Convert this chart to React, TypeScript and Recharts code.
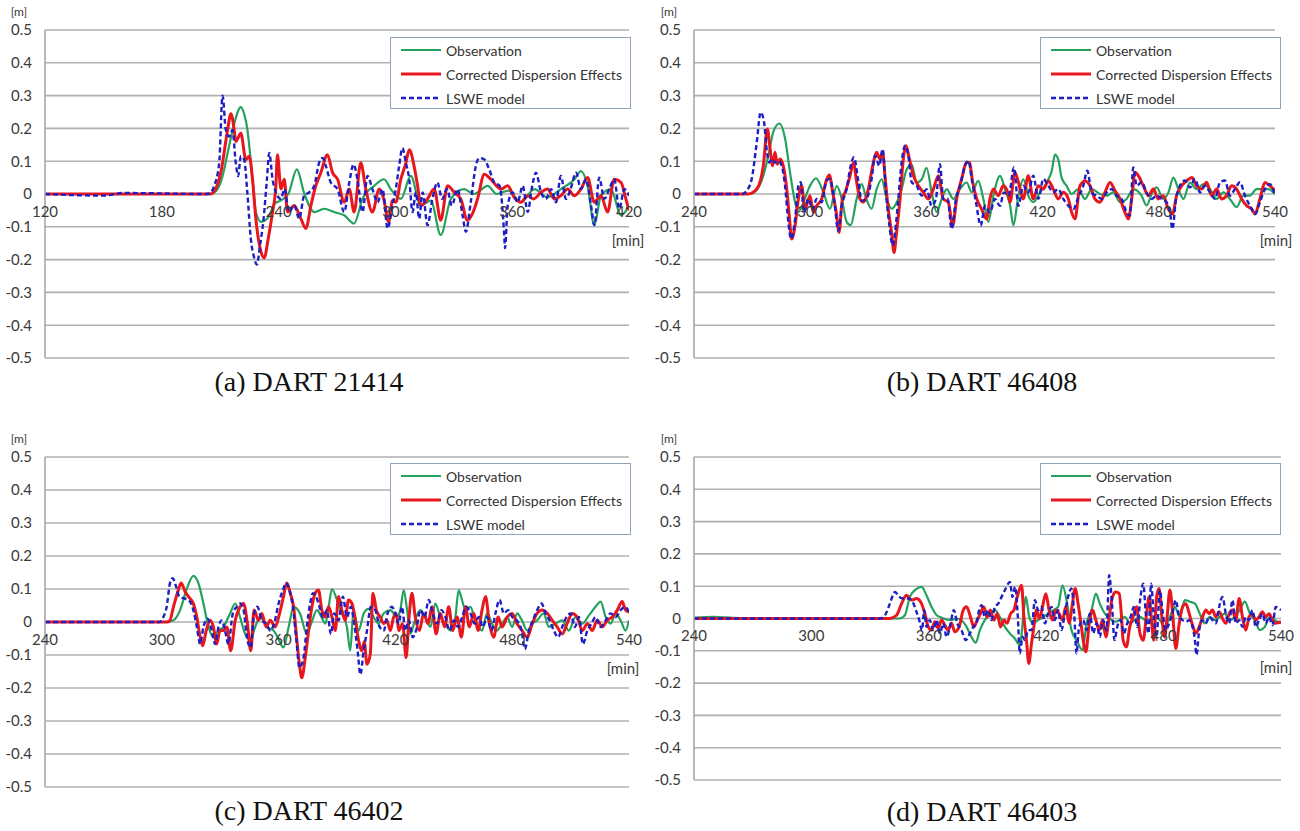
import React from 'react';
import { LineChart, Line, XAxis, YAxis, CartesianGrid, ReferenceDot } from 'recharts';

// (a) DART 21414 — [minute, metres]
const obsA: number[][] = [[120,0],[205,0],[208,0.01],[211,0.05],[214,0.13],[217,0.21],[220.6,0.265],[222,0.25],[224,0.195],[226.6,0.045],[228.3,-0.055],[231,-0.085],[234.3,-0.075],[238,-0.03],[241,-0.02],[245,0.0],[249.4,0.075],[253,0.005],[258.3,-0.055],[263.4,-0.045],[268.5,-0.055],[273.7,-0.065],[278.8,-0.09],[283.1,-0.015],[289.1,0.025],[294.2,0.045],[297.6,0.015],[302.8,-0.015],[307.9,0.055],[313,-0.035],[318.2,-0.02],[323.3,-0.125],[328.5,-0.015],[335.3,0.015],[340.4,0],[347.4,0.025],[352,0],[358,0.01],[364.5,-0.025],[371.4,0.015],[378,-0.01],[385,0.015],[392,0.045],[395.3,0.07],[398.7,0.025],[402.2,-0.095],[405.6,-0.005],[410.7,0.015],[415.9,-0.065],[420,-0.035]];
const corA: number[][] = [[120,0],[205,0],[208,0.02],[210.3,0.065],[213.8,0.195],[215.5,0.245],[217.2,0.195],[218,0.16],[220.6,0.185],[223.2,0.105],[224.9,0.115],[226.6,0.045],[228.3,-0.075],[230.9,-0.175],[232.6,-0.195],[234.7,-0.135],[236.9,-0.055],[238.6,0.025],[239.4,0.12],[241.2,0.015],[242.9,0.045],[244.6,-0.055],[248,-0.035],[251.4,-0.075],[254,-0.105],[256.6,-0.035],[259.1,0.025],[261.7,0.065],[265.1,0.12],[267.7,0.065],[270.3,0.045],[273.7,-0.025],[276.3,0.015],[278.8,-0.055],[282.2,0.095],[284.8,0.015],[288.2,-0.055],[291.7,0.015],[294,-0.015],[296.5,-0.085],[298.5,-0.02],[300.2,-0.025],[302.8,0.045],[305.4,0.095],[307.1,0.135],[309.6,0.085],[311.4,0.025],[313.1,-0.035],[316.5,-0.015],[319.9,0.015],[323.3,-0.08],[326.8,0.025],[330.2,0.005],[333.6,-0.015],[337,-0.08],[339.6,-0.06],[342.2,-0.015],[345.7,0.06],[349,0.045],[354.2,0.015],[357.7,0.025],[361,-0.01],[364.5,-0.025],[368,-0.005],[371,-0.015],[374.8,0.005],[378.2,0.015],[381.6,-0.015],[385,-0.005],[388.5,0.015],[391.9,-0.005],[395.3,0.015],[398.7,0.05],[402.2,-0.025],[405.6,-0.005],[409,-0.055],[412.4,0.045],[415.9,0.035],[418.4,-0.015],[420,-0.05]];
const lsweA: number[][] = [[120,0],[150,-0.005],[160,0.003],[203,0],[205.2,0.005],[206.9,0.025],[209.5,0.095],[211.2,0.3],[212.9,0.195],[214.6,0.175],[216.3,0.195],[218,0.095],[219.2,0.055],[220.6,0.115],[222.3,0.105],[224,0],[225.7,-0.135],[227.5,-0.195],[228.8,-0.215],[230.5,-0.155],[232.3,-0.075],[234,0.045],[235.2,0.125],[236.9,0.045],[238.6,0.005],[241.2,-0.015],[243,0.015],[245.4,-0.055],[248,-0.035],[250.6,-0.075],[253.1,-0.005],[255.7,0.005],[258.3,0.025],[260.8,0.095],[262.6,0.11],[264.3,0.085],[266.8,0.035],[270.3,0.015],[273.7,-0.055],[276.3,0.035],[278.5,0.09],[280.5,0.045],[283.1,-0.055],[285.7,0.055],[288.2,0.015],[290.8,-0.025],[293.4,0.015],[296,-0.105],[298.5,-0.035],[300.2,0.015],[301.9,0.085],[303.6,0.14],[305.4,0.095],[307.1,0.045],[308.8,-0.055],[310.5,0.005],[312.2,-0.075],[314,0.005],[316.5,-0.095],[319,-0.015],[321.6,0.035],[324,-0.015],[326.5,0.015],[329,-0.035],[331.9,0.015],[334.5,-0.065],[336.2,-0.115],[338.7,-0.025],[341.3,0.085],[343.1,0.11],[345.7,0.105],[348.2,0.075],[350.8,0.035],[353.5,0.025],[355.9,-0.125],[356.3,-0.165],[357.7,-0.035],[360.2,0.005],[362.8,-0.025],[365.4,0.025],[368,-0.055],[370,0.015],[372.2,0.065],[374.8,0.005],[377.3,-0.015],[380,0.015],[382.5,-0.025],[385,0.055],[387.6,-0.015],[390,0.015],[392.8,0.065],[395.3,0.015],[397.9,0.045],[400.5,-0.035],[402.2,-0.095],[404.7,0.05],[407.3,-0.015],[409.9,0.015],[412.4,0.045],[415,-0.045],[417.6,0.015],[420,-0.005]];

// (b) DART 46408
const obsB: number[][] = [[240,0],[269,0],[272,0.01],[275.8,0.056],[278.5,0.12],[281,0.19],[284.1,0.215],[287,0.17],[289.6,0.065],[292.2,-0.025],[293.9,-0.055],[296.5,-0.025],[299.9,0.025],[303,0.048],[306.8,0.005],[310.2,-0.045],[313.7,0.025],[316.3,-0.015],[318.8,-0.085],[320.9,-0.095],[324,-0.015],[326.6,0.03],[329,-0.015],[331.7,-0.045],[334.3,0.015],[336.9,0.045],[339.5,-0.015],[342.1,-0.045],[344.7,-0.025],[347.2,0.015],[349.8,0.075],[352.4,0.09],[355,0.035],[357.6,0.045],[360.1,0.08],[362.7,0.005],[365.3,-0.055],[367.9,-0.015],[370.5,0.015],[373.9,-0.015],[377.3,0.015],[380.8,0.035],[383.4,0.005],[386.8,0.04],[389.4,-0.015],[392,-0.085],[394.6,-0.005],[398,0.055],[400.6,0.015],[403.2,-0.035],[404.9,-0.095],[407.5,-0.005],[410,0.045],[412.6,-0.005],[415.2,-0.025],[418.7,0.005],[422.1,0.035],[424.7,0.07],[426.4,0.12],[428.1,0.105],[429.8,0.05],[432.4,0.025],[435,0],[438.4,0.015],[441.9,-0.015],[445.3,0.015],[449.6,0],[453.1,-0.005],[456.5,0.005],[460,-0.025],[463.4,-0.015],[466.8,0.015],[471.1,-0.005],[473.7,-0.035],[476.3,0],[478.9,0.02],[482.3,-0.015],[485,0.005],[487.5,0.05],[490.1,0.015],[492.7,-0.015],[496.1,0.035],[499.5,0.015],[503,0.03],[506.4,0.015],[509.9,-0.015],[513.3,0.005],[516.7,-0.015],[520.2,-0.04],[523.6,-0.005],[527,-0.005],[530.5,0.015],[534,0.015],[536.5,0.015],[540,0]];
const corB: number[][] = [[240,0],[268,0],[272.4,0.015],[275.8,0.086],[277.9,0.198],[279.3,0.137],[280.6,0.086],[281.8,0.127],[283,0.091],[284.4,0.107],[286.1,0.086],[287.9,0.015],[289.2,-0.066],[290.4,-0.137],[292.2,-0.096],[293.9,-0.015],[295.6,0.025],[297.3,-0.046],[299.9,-0.005],[301.6,-0.056],[303.3,-0.036],[305.9,-0.015],[308.5,0.045],[309.9,0.058],[311.6,0.005],[313.7,-0.066],[314.9,-0.117],[316.6,-0.015],[318,0.005],[320.6,0.056],[322.3,0.096],[324,0.036],[325.7,-0.015],[327.4,-0.025],[330,0.015],[332.6,0.096],[334.3,0.127],[336,0.107],[337.4,0.127],[338.6,0.056],[340.3,-0.046],[342,-0.117],[343.3,-0.178],[344.6,-0.117],[346.4,-0.015],[348.1,0.107],[349.5,0.147],[351.2,0.107],[353.3,0.056],[355.9,0.025],[358.4,0.005],[361,-0.015],[363.6,0.015],[366.2,0.056],[368.7,-0.015],[371.3,-0.025],[373.6,-0.096],[375.6,-0.015],[378.2,0.046],[380.8,0.096],[382.2,0.096],[383.9,0.036],[386,-0.015],[388.5,-0.046],[391.1,-0.076],[392.8,-0.015],[394.6,0.015],[397.1,-0.005],[399.7,0.025],[402,0.005],[403.2,-0.025],[405.7,0.066],[407.5,0.036],[410,-0.015],[412.6,0.056],[415.2,-0.015],[417.8,0.025],[420.4,0.015],[423,0.04],[425.5,0.015],[428.1,-0.015],[430.7,0.005],[433.3,-0.015],[435,-0.056],[436.7,-0.076],[439.3,0.025],[441.9,0.04],[444.5,0.025],[447,-0.015],[449.6,-0.025],[452.2,0.005],[454.8,0.035],[457.4,0.01],[460,-0.015],[462.5,-0.056],[464.3,-0.076],[466,-0.015],[467.7,0.066],[469.4,0.056],[472,0.025],[474.6,-0.005],[477.2,0.015],[479.7,-0.015],[482.3,-0.005],[484.9,-0.046],[487.1,-0.061],[489.2,-0.005],[491.8,0.025],[494.4,0.04],[497,0.05],[499.5,0.025],[502.1,0.015],[504.7,0.036],[507.3,-0.005],[509.9,0.015],[512.4,-0.015],[515,-0.005],[517.6,0.025],[520.2,0.015],[522.8,-0.015],[525.4,-0.036],[528,-0.046],[529.7,-0.061],[532.2,-0.015],[534.8,0.035],[537.4,0.025],[540,0.01]];
const lsweB: number[][] = [[240,0],[265,0],[267.2,0.01],[269.8,0.046],[272.4,0.157],[274.4,0.249],[276.2,0.218],[277.5,0.137],[278.9,0.096],[280.1,0.107],[281.8,0.096],[283.5,0.101],[285.3,0.086],[287,0.025],[288.7,-0.086],[290.1,-0.137],[292.2,-0.076],[293.9,0.025],[295.1,0.036],[296.8,-0.056],[299,-0.015],[301.3,-0.046],[303.3,-0.015],[305.9,-0.025],[308.5,0.041],[310.2,0.046],[312.3,-0.015],[314.5,-0.112],[316.3,-0.036],[318.8,0.015],[320.9,0.086],[322.6,0.112],[324.9,0.036],[326.6,-0.02],[329,-0.015],[331.7,0.046],[333.5,0.117],[335.7,0.086],[337.4,0.137],[339.1,0.005],[340.9,-0.096],[342.6,-0.157],[343.8,-0.117],[345.5,-0.015],[347.2,0.096],[349,0.147],[350.7,0.117],[352.4,0.036],[355,0.025],[357.6,-0.005],[360.1,0.015],[362.7,-0.036],[364.9,-0.015],[367,0.091],[368.7,-0.015],[371,-0.015],[373,-0.107],[375.3,-0.015],[377.4,0.025],[379.9,0.086],[381.7,0.101],[383.4,0.046],[385.6,-0.025],[388,-0.096],[390.3,-0.036],[392.8,-0.056],[395.4,-0.015],[398,-0.036],[400,0.005],[402.5,-0.005],[405.2,0.081],[407.5,-0.036],[410,0.025],[412.6,0.005],[415.2,0.056],[417.8,-0.015],[420.4,0.046],[423,0.025],[425.5,0.005],[428.1,0.015],[430.7,-0.015],[433.3,-0.036],[435.9,-0.046],[438.4,-0.01],[441,0.025],[443.1,0.071],[445.3,0.005],[447.9,-0.005],[450.5,-0.015],[453.1,0.005],[455.7,0.015],[458.2,-0.005],[460.8,-0.015],[463.4,-0.056],[465.1,-0.066],[466.8,0.081],[468.6,0.025],[471.1,0.036],[473.7,0.005],[476.3,-0.015],[478.9,-0.005],[481.5,-0.015],[484,-0.025],[485.8,-0.056],[487,-0.107],[488.9,-0.015],[490.9,0.025],[493.5,0.041],[496.1,0.02],[498.7,0.046],[501.3,0.005],[503.8,0.025],[506.4,0.005],[509,-0.015],[511.6,0.036],[514.2,0.041],[516.7,-0.005],[519.3,0.015],[521.9,0.036],[524.5,-0.005],[527.1,-0.036],[529.7,-0.061],[532.2,-0.025],[534.8,0.015],[537.4,0.03],[540,-0.005]];

// (c) DART 46402
const obsC: number[][] = [[240,0],[302.5,0],[306,0.005],[309.4,0.036],[312.8,0.1],[316.2,0.14],[318.8,0.118],[321.4,0.056],[324,-0.015],[326.5,-0.046],[329.1,-0.026],[331.7,-0.015],[335.1,0.026],[337.7,0.056],[340.2,0.015],[342.8,-0.036],[345.4,-0.056],[348,-0.015],[350.5,0.015],[354,-0.015],[357.4,-0.026],[359.5,-0.046],[362.5,-0.077],[365,-0.02],[367.7,0.046],[371,0.026],[374.5,-0.036],[377,0],[379.7,0.036],[382,0.015],[384,-0.005],[385.7,0.046],[387.4,0.1],[390,0.067],[392.5,0.026],[395.1,-0.015],[396.8,-0.087],[398.5,0.036],[401.1,-0.026],[403.7,0.026],[406.2,0.04],[408.8,0.015],[411.4,-0.005],[413.9,0.026],[417.4,0.036],[420.8,0.015],[422.5,0.036],[424.3,0.097],[426,0.036],[427.7,-0.036],[430,0.005],[432.8,0.036],[435.4,0.015],[438,-0.015],[440.5,0.056],[443.1,0.015],[445.7,-0.005],[448.2,-0.026],[450.8,0.015],[452.5,0.097],[454.2,0.067],[456,0.036],[458.5,0.046],[461.1,0.005],[464.5,-0.026],[467.1,0.026],[469.7,-0.005],[472.2,-0.026],[474.8,-0.005],[477.4,0.015],[480,-0.015],[482.5,0.026],[485,0.005],[487.7,-0.026],[490.3,-0.005],[492.8,0.005],[496.2,0.026],[498.8,-0.015],[502.2,-0.005],[505.7,0.005],[509.1,-0.026],[512.5,0.015],[516,-0.005],[519.4,0.02],[522.8,0.046],[525.4,0.062],[528,0.015],[530.6,-0.005],[533.1,0.026],[535.7,0.005],[538.2,-0.026],[540,0.005]];
const corC: number[][] = [[240,0],[302.5,0],[304,0.003],[306,0.046],[308.5,0.097],[309.9,0.118],[312,0.092],[313.7,0.077],[316.2,0.056],[318,0.015],[319.7,-0.046],[321,-0.072],[322.8,-0.026],[324.8,0.005],[326.5,-0.015],[328.2,-0.067],[329.9,-0.026],[331.7,-0.026],[333.4,-0.015],[335.4,-0.087],[337.7,0.005],[340.2,0.046],[342,0.056],[344,-0.005],[345.7,-0.087],[347.4,0.036],[349.7,0.005],[351.4,0.026],[353.6,-0.015],[355.7,0.005],[358.2,-0.015],[360.5,0.026],[362.5,0.077],[364.2,0.118],[366,0.087],[367.7,0.046],[369.4,-0.056],[370.7,-0.128],[371.9,-0.169],[373.7,-0.108],[375.4,-0.026],[377.1,0.046],[378.8,0.087],[380.5,0.097],[382.2,0.036],[383.9,0.015],[385.7,0.046],[387.4,0.015],[389.1,-0.026],[390.8,0.077],[392.5,0.036],[394.2,0.005],[395.9,0.067],[397.7,0.056],[399.4,0.005],[401.1,-0.056],[402.8,-0.087],[404,-0.06],[405.4,-0.128],[407.1,-0.097],[408.5,0.087],[410.2,0.036],[412.2,0.015],[414,-0.005],[415.6,0.005],[417.4,-0.026],[419.1,0.015],[420.5,0.025],[421.7,-0.026],[423.7,-0.005],[425.5,-0.108],[426.9,0.005],[428.5,0.087],[430.2,0.015],[432.3,-0.026],[434.5,0.026],[436.8,-0.005],[438.8,0.046],[440.9,-0.036],[443.1,0.026],[445.3,-0.015],[447.4,0.046],[449.4,-0.026],[451.7,0.015],[453.9,-0.046],[456,0.046],[458,-0.015],[460.3,0.026],[462.5,-0.026],[464.5,0.036],[466.3,0.077],[468.3,-0.005],[470.5,-0.046],[472.8,0.015],[474.8,-0.015],[477.4,0.015],[480,0.026],[482.5,-0.005],[485.1,-0.026],[487.7,-0.046],[490.3,-0.005],[492.8,0.026],[495.4,0.036],[498,0.026],[500.6,0.005],[503.1,-0.015],[505.7,-0.036],[508.2,-0.005],[510.8,0.026],[513.4,0.015],[516,-0.026],[518.6,-0.005],[521.1,-0.026],[523.7,0.005],[526.3,-0.015],[528.8,0.005],[531.4,0.015],[534,0.036],[536.5,0.062],[538.2,0.036],[540,0.03]];
const lsweC: number[][] = [[240,0],[299,0],[300.8,0.015],[302.5,0.046],[304.2,0.118],[305.6,0.133],[307.3,0.108],[309,0.077],[311.1,0.072],[313.7,0.067],[316.2,0.036],[318,-0.015],[319.7,-0.067],[321.4,-0.015],[323.4,0.01],[325.7,-0.026],[327.4,-0.067],[329.1,-0.015],[330.8,0.005],[332.5,-0.026],[334.2,-0.067],[336.5,0.026],[338.5,0.046],[340.2,0.056],[342,0.036],[344,-0.056],[345.7,-0.077],[347.4,0.026],[349.1,0.046],[351.4,0.005],[353.6,-0.005],[355.7,-0.026],[357.7,-0.005],[360,0.056],[362.2,0.097],[363.9,0.118],[365.6,0.097],[367.3,0.046],[369,-0.046],[370.7,-0.138],[372.8,-0.108],[374.5,-0.015],[376.2,0.056],[377.6,0.087],[379.3,0.077],[381,0.046],[382.7,0.015],[384.8,0.036],[386.9,-0.036],[388.6,0.026],[390.8,0.005],[393,0.077],[395.1,0.015],[397.1,0.046],[398.8,-0.005],[400.6,-0.087],[402,-0.159],[403.7,-0.087],[405.4,-0.026],[407.4,0.046],[409.7,0.036],[411.9,-0.015],[414,-0.026],[416,0.026],[418.2,0.046],[420,0.026],[421.7,-0.005],[423.4,0.046],[425.1,-0.026],[426.9,0.005],[428.9,-0.046],[430.6,-0.026],[432.9,0.036],[435,0.015],[437.1,0.067],[439.2,0.026],[441.4,-0.005],[443.6,0.036],[445.7,0.015],[447.8,-0.026],[450,0.005],[452.2,-0.015],[454.3,0.015],[456.3,0.046],[458.6,0.026],[460.8,-0.005],[462.9,0.015],[464.9,-0.015],[467.1,0.015],[469.4,-0.026],[471.4,0.026],[473.5,0.067],[475.7,0.026],[477.9,0.036],[480,0.015],[482.4,0.005],[484.8,-0.026],[486.5,-0.082],[488.6,-0.026],[490.6,0.005],[492.8,0.036],[495.1,0.056],[497.1,0.026],[499.2,0.005],[501.4,-0.026],[503.6,-0.046],[505.7,-0.015],[507.9,0.015],[510,0.026],[512.2,-0.015],[514.3,0.015],[516.3,-0.067],[518.6,-0.026],[520.7,-0.005],[522.8,0.015],[525.4,-0.015],[528,0.005],[530.5,0.026],[533.1,0.015],[535.7,0.036],[537.9,0.046],[540,0.03]];

// (d) DART 46403
const obsD: number[][] = [[240,0.003],[250,0.005],[260,0.002],[280,0],[345,0],[347.8,0.01],[350.3,0.067],[353.4,0.09],[356.3,0.098],[358.8,0.072],[361.4,0.036],[364,0.01],[366.5,0.003],[369,-0.003],[371.6,-0.005],[374,0],[376.7,-0.005],[379.3,-0.026],[381.8,-0.057],[384,-0.075],[386.1,-0.036],[388.6,-0.005],[391.2,0.015],[393.8,0.026],[396.3,0.005],[398.9,-0.026],[401.4,-0.046],[404,-0.062],[406.5,-0.082],[408.6,0.026],[409.6,0.067],[411.3,0.005],[413.3,-0.015],[415.8,-0.005],[418.4,0.005],[421,0.015],[423.6,0.026],[426.1,0.036],[428.3,0.103],[430.4,0.057],[432.9,-0.036],[435.5,-0.067],[438.6,-0.098],[440.6,-0.015],[443.2,0.026],[445.4,0.077],[447.4,0.046],[450,0.015],[452.5,0],[455.1,-0.01],[457.6,-0.005],[460.2,0.005],[462.7,-0.015],[465.3,-0.005],[467.9,0.005],[470.5,-0.005],[473,-0.015],[475.6,0.005],[478.1,-0.005],[480.6,-0.026],[483.2,0.005],[485.7,0.036],[488.3,0.005],[490.8,0.057],[493.4,0.052],[496,0.046],[498.5,0.015],[501.1,-0.015],[503.6,0.005],[506.2,-0.005],[508.7,0.005],[511.3,0.015],[513.8,-0.005],[516.4,0.005],[518.9,0.026],[521.5,0.052],[524.1,0.015],[526.6,-0.005],[529.2,-0.036],[531.7,-0.026],[534.3,0.005],[536.8,-0.005],[540,-0.015]];
const corD: number[][] = [[240,0],[340,0],[343.5,0.01],[346.1,0.046],[348.6,0.072],[351.2,0.057],[353.7,0.062],[355.8,0.052],[358,0.015],[359.7,-0.026],[361.4,-0.036],[363.1,-0.01],[364.8,-0.031],[366.5,-0.005],[368.2,-0.021],[369.9,-0.036],[371.6,-0.015],[373.3,-0.041],[375.5,-0.026],[377.6,0.026],[379.3,0.036],[381.3,0.005],[383,-0.026],[384.7,-0.005],[386.4,0.015],[388.1,0.036],[389.8,0.005],[391.5,0.026],[393.2,-0.005],[395,0.015],[396.6,-0.026],[398.4,-0.005],[400,-0.015],[401.8,0.015],[403.5,0.026],[405.2,0.067],[407.4,0.103],[408.6,0.005],[409.9,-0.067],[411.1,-0.139],[412.5,-0.077],[413.7,-0.026],[415,0.026],[416.5,0],[418.1,0.036],[419.8,0.077],[421.5,0.026],[423.2,-0.005],[424.9,0.026],[426.6,0.015],[428.3,-0.005],[430,0.036],[431.7,-0.015],[433.4,0.046],[434.8,0.093],[436.3,0.046],[438,-0.026],[438.9,-0.067],[440.3,-0.103],[442,-0.015],[443.7,0.026],[445.4,-0.005],[447.1,-0.036],[448.8,-0.005],[450.5,-0.057],[452.2,0.005],[453.9,0.067],[455.6,0.082],[457.3,0.077],[458.5,0.005],[459.3,-0.067],[461,-0.088],[462.7,-0.026],[464.4,0.005],[466.2,0.036],[467.9,-0.046],[469.6,-0.067],[471.3,0.015],[472.6,0.067],[473.8,-0.005],[475,-0.067],[476.4,0.067],[477.7,0.093],[479.1,0.005],[480.5,-0.057],[481.8,0.005],[483.2,0.088],[484.5,0.026],[486.2,-0.093],[488,-0.015],[489.7,0.036],[491.4,0.046],[493.1,0.015],[494.8,-0.021],[496.5,-0.046],[498.2,-0.026],[499.9,0.005],[501.6,0.026],[503.3,0.015],[505,0.026],[506.7,0.005],[508.4,0.021],[510.1,0],[511.8,-0.015],[513.5,0.015],[515.2,0.026],[516.9,-0.005],[518.6,0.062],[520.3,0.005],[522,-0.036],[523.7,0.005],[525.4,0.015],[527.1,-0.005],[528.8,0.005],[530.5,0.021],[532.2,0.005],[533.9,0.015],[535.6,-0.005],[537.3,-0.015],[540,-0.01]];
const lsweD: number[][] = [[240,0],[335,0],[337.6,0.01],[340.1,0.046],[342.7,0.082],[344.9,0.067],[346.9,0.062],[349.5,0.062],[351.7,0.052],[353.4,0.026],[355.1,-0.005],[356.5,-0.036],[357.7,0.026],[358.8,-0.026],[360.5,-0.005],[362.2,-0.036],[364,-0.005],[365.7,-0.046],[367.4,-0.015],[369.1,-0.057],[370.8,-0.026],[372.8,0.026],[374.5,-0.015],[376.7,-0.036],[378.9,-0.067],[381,-0.046],[382.7,-0.026],[384.4,-0.015],[385.7,0.026],[386.9,0.041],[388.6,0.005],[390.3,0.026],[392,-0.005],[393.8,0.036],[395.5,0.046],[397.2,0.067],[398.9,0.088],[400.6,0.108],[401.4,0.113],[402.8,0.067],[404.1,0.098],[405.5,0.005],[406.5,-0.108],[407.9,-0.057],[409.1,-0.067],[410.8,-0.036],[412.5,-0.036],[414.2,0.057],[415.9,0.026],[417.6,0.036],[419.3,-0.015],[421,0.015],[422.7,0.036],[424.4,-0.005],[426.1,0.026],[427.8,-0.036],[429.5,0.015],[431.2,0.067],[432.9,0.093],[434.3,0.015],[435.5,-0.108],[436.8,-0.026],[438.9,-0.005],[440.6,-0.036],[442.3,0.015],[444,-0.046],[445.7,-0.015],[447.4,-0.057],[449.1,-0.005],[450.8,-0.036],[452.2,0.134],[453.5,0.057],[454.9,-0.067],[456.3,-0.026],[458,-0.005],[459.7,-0.046],[461.4,-0.015],[463.1,0.005],[464.8,0.036],[466.5,-0.026],[468.2,0.067],[469.6,0.108],[470.9,0.015],[472.3,-0.046],[473.6,0.108],[475,0.005],[476.4,-0.057],[478.1,0.088],[479.4,0.026],[481.1,-0.036],[482.8,-0.015],[484.5,0.015],[486.2,0.057],[488,0.005],[489.7,-0.005],[491.4,-0.01],[493.1,-0.005],[494.8,-0.026],[496,-0.067],[496.8,-0.113],[498.2,-0.036],[499.9,-0.005],[501.6,-0.015],[503.3,0.005],[505,-0.005],[506.7,-0.015],[508.4,0.036],[510.1,0.067],[511.8,0.015],[513.5,-0.015],[515.2,0.057],[516.9,-0.015],[518.6,-0.005],[520.3,-0.026],[522,0.005],[523.7,-0.005],[525.4,0.026],[527.1,-0.026],[528.8,-0.005],[530.5,0.015],[532.2,-0.015],[533.9,0.005],[535.6,-0.021],[537.3,0.036],[540,0.026]];

const yTicks = [0.5, 0.4, 0.3, 0.2, 0.1, 0, -0.1, -0.2, -0.3, -0.4, -0.5];
const xTicksA = [120, 180, 240, 300, 360, 420];
const xTicksBCD = [240, 300, 360, 420, 480, 540];
const seriesNames = ['Observation', 'Corrected Dispersion Effects', 'LSWE model'];

const COLORS = { obs: '#25a15e', cor: '#e8171d', lswe: '#1d1fc4' };
const FONT = 'Lato, "Liberation Sans", sans-serif';
const SERIF = '"Liberation Serif", "Times New Roman", serif';

const toPts = (arr: number[][]) => arr.map(([t, v]) => ({ t, v }));

interface PanelProps {
  left: number;
  top: number;
  width: number;
  height: number;
  margin: { top: number; right: number; bottom: number; left: number };
  yWidth: number;
  domain: [number, number];
  xTicks: number[];
  obs: number[][];
  cor: number[][];
  lswe: number[][];
}

const Panel: React.FC<PanelProps> = ({ left, top, width, height, margin, yWidth, domain, xTicks, obs, cor, lswe }) => (
  <div style={{ position: 'absolute', left, top }}>
    <LineChart width={width} height={height} margin={margin} style={{ overflow: 'visible' }}>
      <CartesianGrid vertical={false} stroke="#b0b0b0" strokeWidth={1.6} />
      <XAxis type="number" dataKey="t" domain={domain} hide allowDataOverflow />
      <YAxis
        type="number"
        domain={[-0.5, 0.5]}
        ticks={yTicks}
        interval={0}
        width={yWidth}
        tickLine={false}
        tickSize={0}
        tickMargin={13}
        axisLine={{ stroke: '#a8a8a8', strokeWidth: 1.6 }}
        tick={{ fill: '#3a3a3a', fontSize: 15, fontFamily: FONT }}
        tickFormatter={(v: number) => (v === 0 ? '0' : v.toFixed(1))}
        allowDataOverflow
      />
      {xTicks.map((t) => (
        <ReferenceDot
          key={t}
          x={t}
          y={0}
          r={0}
          fill="none"
          stroke="none"
          ifOverflow="visible"
          label={{ value: String(t), position: 'bottom', offset: 12, fill: '#3a3a3a', fontSize: 15, fontFamily: FONT }}
        />
      ))}
      <Line data={toPts(obs)} dataKey="v" type="monotone" stroke={COLORS.obs} strokeWidth={2.2} dot={false} isAnimationActive={false} />
      <Line data={toPts(cor)} dataKey="v" type="monotone" stroke={COLORS.cor} strokeWidth={3} dot={false} isAnimationActive={false} />
      <Line data={toPts(lswe)} dataKey="v" type="monotone" stroke={COLORS.lswe} strokeWidth={2.4} strokeDasharray="5 3" dot={false} isAnimationActive={false} />
    </LineChart>
  </div>
);

const LegendBox: React.FC<{ left: number; top: number }> = ({ left, top }) => {
  const styles = [
    { stroke: COLORS.obs, width: 2.2, dash: undefined },
    { stroke: COLORS.cor, width: 3, dash: undefined },
    { stroke: COLORS.lswe, width: 2.4, dash: '5 3' },
  ];
  return (
    <div
      style={{
        position: 'absolute',
        left,
        top,
        width: 241,
        height: 72,
        border: '1px solid #8fa5bb',
        background: '#fff',
        boxSizing: 'border-box',
        fontFamily: FONT,
        fontSize: 14,
        color: '#333',
      }}
    >
      {seriesNames.map((name, i) => (
        <div key={name} style={{ position: 'absolute', left: 10, top: 1 + i * 24, height: 22, display: 'flex', alignItems: 'center', whiteSpace: 'nowrap' }}>
          <svg width={40} height={6} style={{ display: 'block' }}>
            <line x1={0} y1={3} x2={40} y2={3} stroke={styles[i].stroke} strokeWidth={styles[i].width} strokeDasharray={styles[i].dash} />
          </svg>
          <span style={{ marginLeft: 5 }}>{name}</span>
        </div>
      ))}
    </div>
  );
};

const Text: React.FC<{ x: number; y: number; size: number; serif?: boolean; children: React.ReactNode }> = ({ x, y, size, serif, children }) => (
  <div
    style={{
      position: 'absolute',
      left: x,
      top: y,
      transform: 'translate(-50%, -50%)',
      fontFamily: serif ? SERIF : FONT,
      fontSize: size,
      lineHeight: 1,
      color: serif ? '#111' : '#3a3a3a',
      whiteSpace: 'nowrap',
    }}
  >
    {children}
  </div>
);

export default function App() {
  return (
    <div style={{ position: 'absolute', left: 0, top: 0, width: 1300, height: 831, background: '#fff', overflow: 'hidden' }}>
      <Panel left={0} top={0} width={648} height={375} margin={{ top: 30, right: 19, bottom: 17, left: 0 }} yWidth={45} domain={[120, 420]} xTicks={xTicksA} obs={obsA} cor={corA} lswe={lsweA} />
      <Panel left={650} top={0} width={650} height={375} margin={{ top: 30, right: 25, bottom: 17, left: 0 }} yWidth={44} domain={[240, 540]} xTicks={xTicksBCD} obs={obsB} cor={corB} lswe={lsweB} />
      <Panel left={0} top={420} width={648} height={380} margin={{ top: 37, right: 19, bottom: 13, left: 0 }} yWidth={45} domain={[240, 540]} xTicks={xTicksBCD} obs={obsC} cor={corC} lswe={lsweC} />
      <Panel left={650} top={420} width={650} height={380} margin={{ top: 37, right: 19, bottom: 20, left: 0 }} yWidth={44} domain={[240, 540]} xTicks={xTicksBCD} obs={obsD} cor={corD} lswe={lsweD} />

      <LegendBox left={390} top={37} />
      <LegendBox left={1040} top={37} />
      <LegendBox left={390} top={463} />
      <LegendBox left={1040} top={463} />

      <Text x={19} y={12} size={12}>[m]</Text>
      <Text x={669} y={12} size={12}>[m]</Text>
      <Text x={19} y={439} size={12}>[m]</Text>
      <Text x={669} y={439} size={12}>[m]</Text>

      <Text x={628} y={240} size={15}>[min]</Text>
      <Text x={1276} y={240} size={15}>[min]</Text>
      <Text x={623} y={668} size={15}>[min]</Text>
      <Text x={1276} y={667} size={15}>[min]</Text>

      <Text x={309} y={382} size={28} serif>(a) DART 21414</Text>
      <Text x={982} y={382} size={28} serif>(b) DART 46408</Text>
      <Text x={309} y={811} size={28} serif>(c) DART 46402</Text>
      <Text x={982} y={812} size={28} serif>(d) DART 46403</Text>
    </div>
  );
}
